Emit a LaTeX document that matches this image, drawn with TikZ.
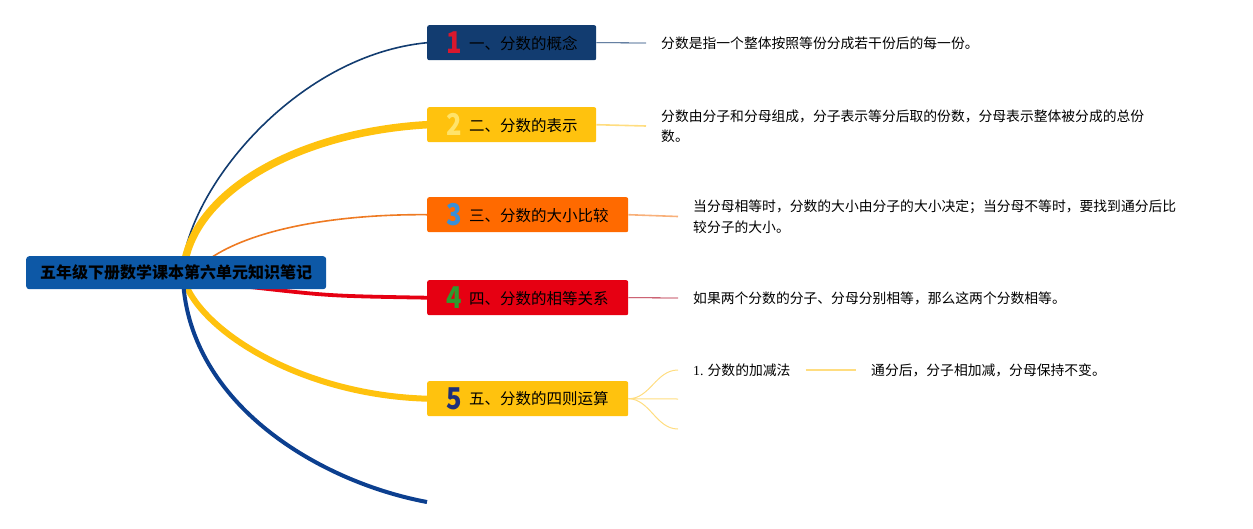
\documentclass[tikz,border=0pt]{standalone}
\usepackage{fontspec}
\setmainfont{Noto Sans CJK SC}
\newfontfamily\cjk{Noto Sans CJK SC}
\newfontfamily\serifnum{Liberation Serif}
\usetikzlibrary{calc,backgrounds}
\definecolor{rootblue}{HTML}{0D58A6}
\definecolor{navy}{HTML}{123C70}
\definecolor{navyb}{HTML}{0C3F8F}
\definecolor{gold}{HTML}{FFC20E}
\definecolor{orangeb}{HTML}{FF6A00}
\definecolor{orangel}{HTML}{EE7A22}
\definecolor{redb}{HTML}{E60012}
\definecolor{num1}{HTML}{D9182D}
\definecolor{num2}{HTML}{FFE36A}
\definecolor{num3}{HTML}{3A8FD6}
\definecolor{num4}{HTML}{2E9B2E}
\definecolor{num5}{HTML}{1D2F7A}
\definecolor{lgold}{HTML}{FFDD80}
\definecolor{lorange}{HTML}{F8B07A}
\definecolor{dred}{HTML}{B0102A}
\newcommand{\bnum}[2]{\makebox[17pt][c]{\raisebox{-4.5pt}{\color{#1}\fontsize{30}{30}\selectfont\bfseries\scalebox{0.85}[1]{#2}}}\hspace*{6pt}}
\tikzset{
  rootbox/.style={fill=rootblue, rounded corners=3pt, minimum width=300pt, minimum height=33pt, inner sep=0pt,
    font=\fontsize{16}{16}\selectfont\bfseries, text=black, anchor=north west},
  mainbox/.style={rounded corners=2pt, minimum height=35pt, inner xsep=0pt, inner ysep=0pt, align=left,
    font=\fontsize{15.5}{16}\selectfont, text=black, anchor=north west},
  desc/.style={inner xsep=15pt, inner ysep=0pt, anchor=west, align=left,
    font=\fontsize{13.8}{20.5}\selectfont, text=black},
}
\begin{document}
\begin{tikzpicture}[x=1pt,y=-1pt]
\useasboundingbox (0,0) rectangle (1253,528);
% root
\node[rootbox] (root) at (26,256) {五年级下册数学课本第六单元知识笔记};
% main boxes
\node[mainbox, fill=navy, text width=169pt] (b1) at (427,25) {\hspace*{19pt}\bnum{num1}{1}一、分数的概念};
\node[mainbox, fill=gold, text width=169pt] (b2) at (427,107) {\hspace*{19pt}\bnum{num2}{2}二、分数的表示};
\node[mainbox, fill=orangeb, text width=201pt] (b3) at (427,197) {\hspace*{19pt}\bnum{num3}{3}三、分数的大小比较};
\node[mainbox, fill=redb, text width=201pt] (b4) at (427,280) {\hspace*{19pt}\bnum{num4}{4}四、分数的相等关系};
\node[mainbox, fill=gold, text width=201pt] (b5) at (427,381) {\hspace*{19pt}\bnum{num5}{5}五、分数的四则运算};
% descriptions
\node[desc] (d1) at (646,43) {分数是指一个整体按照等份分成若干份后的每一份。};
\node[desc] (d2) at (646,126) {分数由分子和分母组成，分子表示等分后取的份数，分母表示整体被分成的总份\\数。};
\node[desc] (d3) at (678,216.5) {当分母相等时，分数的大小由分子的大小决定；当分母不等时，要找到通分后比\\较分子的大小。};
\node[desc] (d4) at (678,298) {如果两个分数的分子、分母分别相等，那么这两个分数相等。};
\node[desc] (s1) at (678,370) {{\serifnum 1.} 分数的加减法};
\node[desc] (s2) at (856,370) {通分后，分子相加减，分母保持不变。};
% free coordinates
\coordinate (r1) at (183,262);
\coordinate (r2) at (184,266);
\coordinate (r3) at (205,262);
\coordinate (r4) at (250,287);
\coordinate (r5) at (184,280);
\coordinate (r6) at (183,280);
\coordinate (e6) at (427,502);
\coordinate (e52) at (678,399);
\coordinate (e53) at (678,429);
\begin{pgfonlayer}{background}
\draw[navy, line width=1.6pt] (r1) .. controls (195,180) and (300,55) .. (b1.west);
\draw[gold, line width=7.5pt] (r2) .. controls (195,190) and (300,132) .. (b2.west);
\draw[orangel, line width=1.6pt] (r3) .. controls (250,228) and (340,214) .. (b3.west);
\draw[redb, line width=3.8pt] (r4) .. controls (330,296) .. (b4.west);
\draw[gold, line width=6pt] (r5) .. controls (200,330) and (300,395) .. (b5.west);
\draw[navyb, line width=4pt] (r6) .. controls (190,405) and (320,482) .. (e6);
\end{pgfonlayer}
% detail connectors
\draw[navy, line width=0.8pt] (b1.east) -- (d1.west);
\draw[lgold, line width=1.6pt] (b2.east) -- (d2.west);
\draw[lorange, line width=1.6pt] (b3.east) -- (d3.west);
\draw[dred, line width=0.8pt] (b4.east) -- (d4.west);
\draw[lgold, line width=1pt] (b5.east) .. controls (650,399) and (656,370) .. (s1.west);
\draw[lgold, line width=1pt] (b5.east) -- (e52);
\draw[lgold, line width=1pt] (b5.east) .. controls (650,399) and (656,429) .. (e53);
\draw[lgold, line width=1.6pt] (s1.east) -- (s2.west);
\end{tikzpicture}
\end{document}
